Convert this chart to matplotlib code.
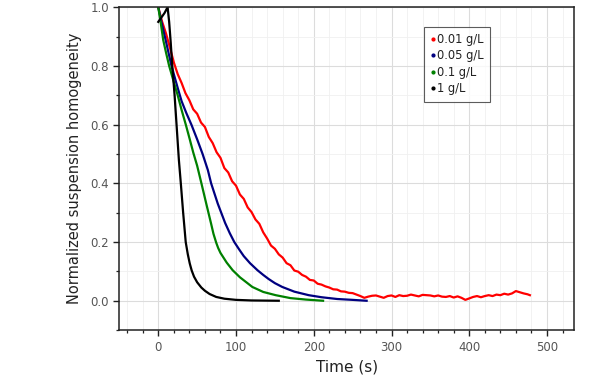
import matplotlib
matplotlib.use('Agg')
import matplotlib.pyplot as plt
from matplotlib.lines import Line2D
from matplotlib.ticker import MultipleLocator

# Data (time in s, normalized homogeneity)
t_001 = [0, 5, 10, 15, 20, 25, 30, 35, 40, 45, 50, 55, 60, 65, 70, 75, 80, 85, 90,
         95, 100, 105, 110, 115, 120, 125, 130, 135, 140, 145, 150, 155, 160, 165,
         170, 175, 180, 185, 190, 195, 200, 205, 210, 215, 220, 225, 230, 235, 240,
         245, 250, 255, 260, 265, 270, 275, 280, 285, 290, 295, 300, 305, 310, 315,
         320, 325, 330, 335, 340, 345, 350, 355, 360, 365, 370, 375, 380, 385, 390,
         395, 400, 405, 410, 415, 420, 425, 430, 435, 440, 445, 450, 455, 460, 465,
         470, 475, 478]
h_001 = [1.00, 0.95, 0.91, 0.862, 0.812, 0.772, 0.742, 0.707, 0.683, 0.652, 0.637,
         0.607, 0.592, 0.558, 0.537, 0.506, 0.487, 0.452, 0.437, 0.407, 0.392, 0.362,
         0.347, 0.318, 0.302, 0.277, 0.262, 0.233, 0.212, 0.188, 0.177, 0.158, 0.147,
         0.128, 0.121, 0.103, 0.099, 0.088, 0.082, 0.071, 0.069, 0.058, 0.055, 0.049,
         0.045, 0.039, 0.038, 0.032, 0.031, 0.027, 0.026, 0.021, 0.016, 0.010, 0.014,
         0.017, 0.018, 0.014, 0.010, 0.016, 0.018, 0.013, 0.019, 0.016, 0.017, 0.021,
         0.018, 0.015, 0.020, 0.019, 0.018, 0.015, 0.018, 0.014, 0.013, 0.016, 0.011,
         0.015, 0.010, 0.003, 0.008, 0.013, 0.016, 0.012, 0.016, 0.019, 0.016, 0.021,
         0.019, 0.024, 0.021, 0.025, 0.033, 0.029, 0.025, 0.022, 0.019]

t_005 = [0, 4, 9.5, 17, 25, 30, 36, 42.6, 50, 57, 63.8, 68, 76.5, 86, 92, 97.8, 104,
         110, 118, 127.6, 135, 142, 150, 159.5, 175, 193.5, 210, 230, 250, 268]
h_005 = [1.00, 0.95, 0.888, 0.80, 0.725, 0.68, 0.64, 0.60, 0.55, 0.50, 0.445, 0.40,
         0.331, 0.265, 0.23, 0.20, 0.175, 0.152, 0.128, 0.104, 0.088, 0.074, 0.06,
         0.047, 0.031, 0.019, 0.012, 0.006, 0.003, 0.0]

t_01 = [0, 3, 6.4, 10, 14, 20, 25, 30, 35.4, 40, 45, 50, 55.5, 61.7, 68, 71, 74.5,
        77, 80, 88, 95.7, 105, 121, 135, 151, 170, 190, 212]
h_01 = [1.00, 0.95, 0.888, 0.845, 0.80, 0.745, 0.70, 0.65, 0.60, 0.555, 0.505,
        0.46, 0.40, 0.331, 0.262, 0.228, 0.198, 0.18, 0.163, 0.13, 0.104, 0.08,
        0.047, 0.03, 0.019, 0.009, 0.004, 0.0]

t_1 = [0, 4, 8, 12, 14, 16, 18, 21, 23.5, 26.5, 29, 32, 35.3, 38, 40.5, 43, 46, 50,
       55.4, 60, 66, 74.5, 85, 100, 120, 155]
h_1 = [0.95, 0.965, 0.98, 1.00, 0.95, 0.88, 0.80, 0.70, 0.60, 0.48, 0.40, 0.30,
       0.20, 0.158, 0.127, 0.103, 0.082, 0.063, 0.045, 0.034, 0.023, 0.013, 0.007,
       0.003, 0.001, 0.0]

series = [
    ('0.01 g/L', t_001, h_001, '#ff0000'),
    ('0.05 g/L', t_005, h_005, '#000080'),
    ('0.1 g/L', t_01, h_01, '#008000'),
    ('1 g/L', t_1, h_1, '#000000'),
]

fig = plt.figure(figsize=(6, 3.79), dpi=100)
ax = fig.add_axes([0.199, 0.129, 0.758, 0.852])

for label, t, h, c in series:
    ax.plot(t, h, color=c, linewidth=1.6, solid_joinstyle='round')

ax.set_xlim(-50, 535)
ax.set_ylim(-0.1, 1.0)
ax.xaxis.set_major_locator(MultipleLocator(100))
ax.xaxis.set_minor_locator(MultipleLocator(20))
ax.yaxis.set_major_locator(MultipleLocator(0.2))
ax.yaxis.set_minor_locator(MultipleLocator(0.1))
ax.yaxis.set_major_formatter(plt.FormatStrFormatter('%.1f'))

ax.grid(True, which='major', color='#dcdcdc', linewidth=0.8)
ax.grid(True, which='minor', color='#f0f0f0', linewidth=0.6)
ax.set_axisbelow(True)

for side in ['left', 'bottom', 'top', 'right']:
    ax.spines[side].set_color('#222222')
    ax.spines[side].set_linewidth(1.1)

ax.tick_params(which='major', direction='out', length=4, width=1, colors='#222222',
               labelcolor='#555555', labelsize=8.5)
ax.tick_params(which='minor', direction='out', length=2.5, width=0.9, colors='#222222')

ax.set_xlabel('Time (s)', fontsize=11, color='#222222', labelpad=4)
ax.set_ylabel('Normalized suspension homogeneity', fontsize=10.5, color='#222222',
              labelpad=6)

handles = [Line2D([], [], color=c, marker='o', markersize=2, linestyle='none')
           for _, _, _, c in series]
labels = [s[0] for s in series]
leg = ax.legend(handles, labels, loc='upper left', bbox_to_anchor=(0.67, 0.94),
                borderaxespad=0, fontsize=8.3, frameon=True, fancybox=False,
                handlelength=0.4, handletextpad=0.15, labelspacing=0.3,
                borderpad=0.55)
leg.get_frame().set_edgecolor('#333333')
leg.get_frame().set_linewidth(0.8)
for txt in leg.get_texts():
    txt.set_color('#222222')

fig.savefig('out.png', dpi=100)
